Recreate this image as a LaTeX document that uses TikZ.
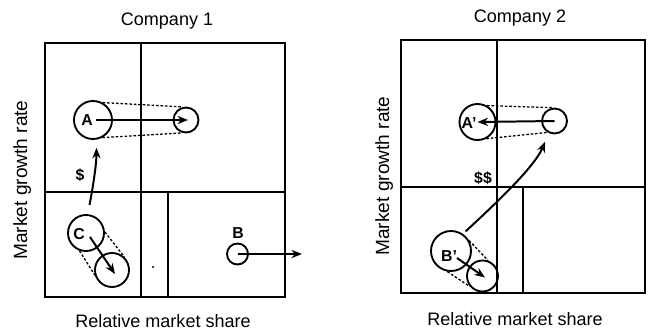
\documentclass[tikz,border=0pt]{standalone}
\usepackage{fontspec}
\setmainfont{Liberation Sans}
\usetikzlibrary{arrows.meta,calc}
\begin{document}
\begin{tikzpicture}[x=0.03cm,y=-0.03cm,
  frame/.style={line width=2pt},
  ring/.style={circle,draw,line width=1.6pt,inner sep=0pt,minimum size=#1*0.06cm},
  arr/.style={line width=1.7pt,-{Stealth[length=9pt,width=7pt]}},
  dotl/.style={line width=1.1pt,dash pattern=on 2.2pt off 1.6pt},
  lab/.style={font=\fontsize{13.5}{14}\selectfont\bfseries,inner sep=0pt},
  title/.style={font=\fontsize{15.4}{16}\selectfont,inner sep=0pt,anchor=base},
  axis/.style={font=\fontsize{16.3}{17}\selectfont,inner sep=0pt,anchor=base,rotate=90}]
\useasboundingbox (0,0) rectangle (667,331);

% Company 1 frame
\draw[frame] (45,43) rectangle (285,297);
\draw[frame] (141,43) -- (141,297);
\draw[frame] (45,192) -- (285,192);
\draw[frame] (168,192) -- (168,297);

% Company 2 frame
\draw[frame] (401,40) rectangle (645,293);
\draw[frame] (497,40) -- (497,293);
\draw[frame] (401,187) -- (645,187);
\draw[frame] (523,187) -- (523,293);

% texts
\node[title] (t1) at (167,25) {Company 1};
\node[title] (t2) at (520,22) {Company 2};
\node[title] (x1) at (163,327.5) {Relative market share};
\node[title] (x2) at (515,325) {Relative market share};
\node[axis] (y1) at (27,180) {Market growth rate};
\node[axis] (y2) at (389,176) {Market growth rate};

% Company 1 circles
\node[ring=19] (A) at (93,120) {};
\node[ring=12.5] (At) at (186,120) {};
\node[lab] (Al) at (87,120) {A};
\node[ring=18] (C) at (86,233) {};
\node[ring=17] (Ct) at (112,270) {};
\node[lab] (Cl) at (79,234) {C};
\node[ring=10.5] (B) at (237.5,254) {};
\node[lab] (Bl) at (238,233) {B};
\node[lab] (D1) at (80,175) {\$};
\node[circle,fill,inner sep=0pt,minimum size=1.8pt] (dot) at (153,267) {};

% Company 2 circles
\node[ring=18] (Ap) at (477.5,122) {};
\node[ring=12.5] (At2) at (554.5,121) {};
\node[lab] (Apl) at (469,123) {A'};
\node[ring=20] (Bp) at (451,251) {};
\node[ring=15.5] (Bpt) at (482.5,276) {};
\node[lab] (Bpl) at (449,256) {B'};
\node[lab] (D2) at (483,178) {\$\$};

% dotted envelopes
\draw[dotl] (A.61) -- (At.104);
\draw[dotl] (A.-62) -- (At.-106);
\draw[dotl] (C.3) -- (Ct.45);
\draw[dotl] (C.-110) -- (Ct.-163);
\draw[dotl] (Ap.60) -- (At2.98);
\draw[dotl] (Ap.-62) -- (At2.-122);
\draw[dotl] (Bp.30) -- (Bpt.70);
\draw[dotl] (Bp.-100) -- (Bpt.-140);

% arrows
\draw[arr] ($(A.center)+(3,0)$) -- ($(At.center)+(2,0)$);
\draw[arr] (At2.center) -- (Ap.center);
\coordinate (Bend) at (302,254);
\draw[arr] (B.center) -- (Bend);
\draw[arr] ($(C.center)+(4,4)$) -- ($(Ct.center)+(3,4)$);
\draw[arr] ($(Bp.center)+(6,7)$) -- ($(Bpt.center)+(2.5,1.5)$);
\draw[arr,shorten <=8pt,shorten >=7pt] (C.85) .. controls +(5,-25) and +(0,25) .. (A.-80);
\draw[arr,shorten <=3pt,shorten >=8pt] (Bp.55) .. controls +(30,-28) and +(-15,35) .. (At2.245);
\end{tikzpicture}
\end{document}
